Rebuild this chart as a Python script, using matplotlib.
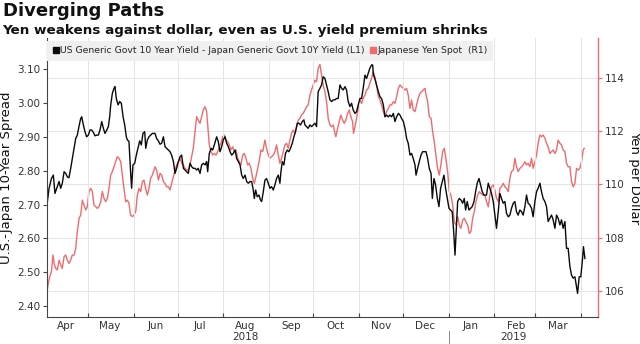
import matplotlib
matplotlib.use("Agg")
import matplotlib.pyplot as plt
import matplotlib.dates as mdates
import matplotlib.transforms as mtransforms
from matplotlib.lines import Line2D
import pandas as pd

# ---------------- data ----------------
base_date = "2018-04-01"

spread_day = [1.9, 3.5, 5.1, 6.4, 7.5, 9.1, 10.3, 11.4, 12.5, 13.7, 14.8, 15.9, 17.0, 18.2, 19.3, 20.5, 21.6,
              22.7, 23.8, 25.0, 25.7, 26.8, 27.9, 29.0, 30.2, 31.3, 32.5, 33.6, 34.7, 35.9, 37.0, 38.1, 39.3,
              40.4, 41.5, 42.7, 43.8, 44.7, 45.4, 46.5, 47.6, 48.3, 49.2, 50.4, 51.5, 52.6, 53.8, 54.9, 56.0,
              56.7, 57.8, 58.9, 59.6, 60.5, 61.7, 62.8, 63.9, 65.1, 66.2, 67.3, 68.5, 69.2, 70.3, 71.4, 72.5,
              73.7, 74.8, 75.5, 76.6, 77.8, 78.9, 80.0, 81.2, 82.3, 83.4, 84.6, 85.7, 86.8, 88.0, 89.1, 90.2,
              91.4, 92.5, 93.6, 94.8, 95.9, 97.0, 98.1, 99.3, 100.4, 101.5, 102.7, 103.8, 104.9, 106.1, 107.2,
              108.3, 109.5, 110.6, 111.3, 112.4, 113.6, 114.7, 115.8, 117.4, 118.5, 119.7, 120.8, 121.9, 123.1,
              124.2, 125.3, 126.5, 127.6, 128.7, 129.9, 131.0, 132.1, 133.3, 134.4, 135.5, 136.7, 137.8, 138.9,
              140.1, 141.2, 142.3, 143.0, 143.9, 145.0, 146.2, 147.1, 148.0, 149.1, 150.2, 151.3, 152.5, 153.6,
              154.7, 155.9, 157.0, 158.1, 159.3, 160.4, 161.1, 162.0, 163.1, 164.2, 165.4, 166.5, 167.6, 168.8,
              169.9, 171.0, 172.2, 173.3, 174.4, 175.6, 176.7, 177.4, 178.5, 179.6, 180.8, 181.9, 183.0, 184.2,
              185.3, 186.4, 187.6, 188.7, 189.8, 191.0, 192.1, 193.2, 194.4, 195.5, 196.6, 197.8, 198.9, 200.0,
              201.2, 202.3, 203.4, 204.6, 205.7, 206.8, 208.0, 209.1, 210.2, 211.4, 212.5, 213.6, 214.8, 215.9,
              217.0, 218.2, 219.3, 220.4, 221.5, 222.7, 223.4, 224.0, 224.9, 226.1, 227.3, 228.4, 229.5, 230.7,
              231.8, 232.9, 234.1, 235.2, 236.3, 237.5, 238.6, 239.7, 240.9, 242.0, 243.1, 244.3, 245.4, 246.5,
              247.6, 248.8, 249.9, 251.0, 252.2, 252.9, 254.0, 255.1, 256.3, 257.4, 258.5, 259.7, 260.8, 261.9,
              263.1, 264.0, 265.1, 266.2, 267.4, 268.5, 269.6, 270.8, 271.9, 273.0, 274.2, 275.3, 276.4, 277.5,
              278.5, 279.4, 280.3, 281.2, 282.3, 283.4, 284.6, 285.7, 286.6, 287.7, 288.9, 290.0, 291.1, 292.3,
              293.4, 294.5, 295.7, 296.8, 297.9, 299.1, 300.8, 302.0, 303.1, 304.2, 305.4, 306.5, 307.6, 308.8,
              309.9, 311.0, 312.2, 313.3, 314.4, 315.6, 316.7, 317.8, 319.0, 320.1, 321.2, 322.3, 323.5, 324.6,
              325.7, 326.9, 328.0, 329.1, 330.3, 331.4, 332.5, 333.7, 334.8, 335.9, 337.1, 338.2, 339.3, 340.5,
              341.6, 342.7, 343.9, 345.0, 346.1, 347.3, 348.4, 349.5, 350.7, 351.8, 352.9, 354.1, 355.2, 356.3,
              357.5, 358.6, 359.7, 360.9, 362.0, 362.7, 363.8, 364.9, 366.1, 366.7, 367.7]
spread_val = [2.694, 2.748, 2.777, 2.787, 2.733, 2.753, 2.768, 2.748, 2.763, 2.797, 2.792, 2.782, 2.779, 2.807,
              2.836, 2.866, 2.895, 2.905, 2.930, 2.954, 2.959, 2.935, 2.915, 2.900, 2.905, 2.920, 2.920, 2.913,
              2.903, 2.905, 2.905, 2.920, 2.945, 2.925, 2.910, 2.920, 2.930, 2.959, 2.994, 3.028, 3.043, 3.048,
              3.013, 2.994, 3.004, 2.999, 2.959, 2.935, 2.900, 2.891, 2.886, 2.797, 2.748, 2.817, 2.822, 2.846,
              2.866, 2.888, 2.876, 2.910, 2.915, 2.866, 2.891, 2.900, 2.905, 2.910, 2.910, 2.910, 2.895, 2.888,
              2.878, 2.881, 2.900, 2.871, 2.866, 2.861, 2.856, 2.846, 2.827, 2.792, 2.807, 2.827, 2.841, 2.846,
              2.807, 2.802, 2.797, 2.792, 2.822, 2.812, 2.807, 2.807, 2.802, 2.807, 2.792, 2.817, 2.822, 2.817,
              2.827, 2.797, 2.851, 2.866, 2.861, 2.876, 2.900, 2.886, 2.856, 2.871, 2.891, 2.900, 2.881, 2.871,
              2.856, 2.846, 2.851, 2.861, 2.836, 2.827, 2.817, 2.787, 2.777, 2.787, 2.768, 2.763, 2.768, 2.768,
              2.743, 2.718, 2.743, 2.723, 2.728, 2.714, 2.709, 2.738, 2.772, 2.777, 2.763, 2.748, 2.753, 2.743,
              2.758, 2.777, 2.787, 2.763, 2.797, 2.827, 2.817, 2.851, 2.861, 2.856, 2.866, 2.881, 2.900, 2.915,
              2.940, 2.940, 2.935, 2.945, 2.950, 2.935, 2.930, 2.925, 2.935, 2.930, 2.935, 2.940, 2.930, 3.033,
              3.043, 3.053, 3.077, 3.072, 3.053, 3.033, 3.009, 3.004, 3.009, 3.009, 3.013, 3.013, 3.053, 3.043,
              3.038, 3.048, 3.038, 3.004, 2.989, 2.999, 2.979, 2.969, 2.974, 2.994, 3.013, 3.013, 3.043, 3.082,
              3.072, 3.087, 3.102, 3.112, 3.112, 3.082, 3.072, 3.053, 3.033, 3.018, 3.013, 2.994, 2.959, 2.964,
              2.959, 2.964, 2.959, 2.969, 2.945, 2.959, 2.969, 2.964, 2.954, 2.945, 2.925, 2.895, 2.881, 2.846,
              2.851, 2.836, 2.817, 2.787, 2.807, 2.827, 2.846, 2.856, 2.856, 2.856, 2.836, 2.807, 2.792, 2.718,
              2.777, 2.758, 2.718, 2.694, 2.748, 2.768, 2.787, 2.748, 2.718, 2.689, 2.684, 2.679, 2.620, 2.551,
              2.630, 2.709, 2.718, 2.714, 2.704, 2.718, 2.684, 2.709, 2.684, 2.689, 2.694, 2.709, 2.738, 2.763,
              2.777, 2.758, 2.738, 2.728, 2.728, 2.763, 2.748, 2.733, 2.709, 2.669, 2.630, 2.679, 2.733, 2.718,
              2.704, 2.709, 2.674, 2.664, 2.669, 2.689, 2.704, 2.709, 2.679, 2.669, 2.684, 2.679, 2.669, 2.694,
              2.728, 2.704, 2.699, 2.689, 2.664, 2.709, 2.738, 2.748, 2.763, 2.738, 2.718, 2.709, 2.694, 2.650,
              2.660, 2.669, 2.655, 2.630, 2.669, 2.660, 2.640, 2.655, 2.630, 2.650, 2.571, 2.571, 2.517, 2.492,
              2.483, 2.487, 2.458, 2.438, 2.487, 2.487, 2.541, 2.576, 2.541]

yen_day = [1.9, 2.8, 3.9, 5.1, 6.2, 6.9, 8.0, 9.1, 10.3, 11.4, 12.5, 13.7, 14.8, 15.9, 17.0, 18.2, 19.3, 20.5,
           21.6, 22.7, 23.9, 25.0, 26.1, 27.2, 28.4, 29.5, 30.6, 31.8, 32.9, 34.0, 35.2, 36.3, 37.4, 38.6, 39.7,
           40.8, 42.0, 43.1, 44.2, 45.4, 46.5, 47.6, 48.8, 49.9, 51.0, 52.2, 53.3, 54.4, 55.6, 56.7, 57.8, 58.9,
           60.1, 61.2, 62.4, 63.5, 64.6, 65.8, 66.9, 68.0, 69.1, 70.3, 71.4, 72.5, 73.7, 74.8, 75.5, 76.6, 77.8,
           78.9, 80.0, 81.2, 82.3, 83.4, 84.6, 85.7, 86.8, 88.0, 89.1, 90.2, 91.4, 92.5, 93.6, 94.8, 95.9, 97.0,
           98.1, 99.3, 100.4, 101.5, 102.7, 103.8, 104.9, 106.1, 107.2, 108.3, 109.5, 110.6, 111.3, 112.4, 113.6,
           114.7, 115.8, 117.0, 118.1, 119.2, 120.3, 121.5, 122.6, 123.7, 124.9, 126.0, 127.1, 128.3, 129.4,
           130.5, 131.7, 132.8, 133.9, 135.1, 136.2, 137.3, 138.5, 139.6, 140.7, 141.9, 143.0, 144.1, 145.3,
           146.4, 147.5, 148.7, 150.2, 151.3, 152.5, 153.6, 154.7, 155.9, 157.0, 158.1, 159.3, 160.4, 161.5,
           162.7, 163.8, 164.9, 166.1, 167.2, 168.3, 169.5, 170.6, 171.7, 172.9, 174.0, 175.1, 176.2, 177.4,
           178.5, 179.6, 180.8, 181.9, 183.0, 184.2, 185.3, 186.4, 187.6, 188.7, 189.8, 191.0, 192.1, 193.2,
           194.4, 195.5, 196.6, 197.8, 198.4, 199.6, 200.7, 201.8, 203.0, 204.1, 205.2, 206.4, 207.5, 208.6,
           209.8, 210.4, 211.4, 212.5, 213.6, 214.8, 215.9, 217.0, 218.2, 219.3, 220.4, 221.5, 222.7, 223.8,
           224.9, 226.1, 227.3, 228.4, 229.5, 230.7, 231.8, 232.9, 234.1, 235.2, 236.3, 237.5, 238.6, 239.7,
           240.9, 242.0, 243.1, 244.3, 245.4, 246.5, 247.6, 248.8, 249.9, 251.0, 252.2, 253.3, 254.4, 255.6,
           256.7, 257.8, 259.0, 259.7, 260.8, 261.9, 263.1, 264.2, 265.3, 266.4, 267.6, 268.7, 269.8, 271.0,
           272.1, 273.2, 274.4, 275.5, 276.6, 277.8, 278.9, 280.0, 281.2, 282.3, 283.4, 284.6, 285.7, 286.8,
           288.0, 289.1, 290.2, 291.4, 292.5, 293.6, 294.8, 295.9, 297.0, 298.2, 299.7, 300.8, 302.0, 303.1,
           304.2, 305.4, 306.5, 307.6, 308.8, 309.9, 311.0, 312.2, 313.3, 314.4, 315.6, 316.7, 317.8, 319.0,
           320.1, 321.2, 322.3, 323.5, 324.6, 325.7, 326.9, 328.0, 329.1, 330.3, 331.4, 332.5, 333.7, 334.8,
           335.9, 337.1, 338.2, 339.3, 340.5, 341.6, 342.7, 343.9, 345.0, 346.1, 347.3, 348.4, 349.5, 350.7,
           351.8, 352.9, 354.1, 355.2, 356.3, 357.5, 358.6, 359.7, 360.9, 362.0, 363.1, 364.2, 365.4, 366.5,
           367.2]
yen_val = [105.91, 106.23, 106.54, 106.73, 107.35, 107.04, 106.85, 106.79, 107.16, 106.98, 106.85, 107.29,
           107.35, 107.16, 107.04, 107.16, 107.35, 107.35, 107.60, 108.23, 108.73, 108.85, 109.41, 109.23,
           109.04, 109.16, 109.73, 109.85, 109.73, 109.23, 109.16, 109.10, 109.16, 109.35, 109.73, 109.48,
           109.35, 109.48, 109.85, 110.35, 110.48, 110.66, 110.85, 111.04, 110.98, 110.85, 110.35, 109.85,
           109.35, 109.41, 109.29, 108.85, 108.79, 108.85, 108.98, 109.60, 109.85, 109.73, 110.10, 110.16,
           109.85, 109.60, 109.85, 110.23, 110.35, 110.54, 110.66, 110.54, 110.16, 110.41, 110.35, 110.10,
           110.04, 109.91, 109.91, 109.79, 110.04, 110.29, 110.54, 110.73, 110.85, 110.98, 110.79, 110.73,
           110.60, 110.54, 110.54, 110.73, 111.04, 111.35, 111.98, 112.54, 112.41, 112.29, 112.54, 112.79,
           112.91, 112.73, 112.23, 111.48, 111.23, 111.10, 111.16, 111.10, 111.23, 111.41, 111.54, 111.79,
           111.85, 111.66, 111.60, 111.48, 111.29, 111.41, 111.23, 111.29, 110.98, 110.85, 110.73, 111.10,
           111.16, 110.98, 110.73, 110.79, 110.60, 110.23, 110.04, 110.29, 110.60, 110.91, 111.29, 111.23,
           111.66, 111.35, 111.10, 110.98, 111.04, 111.10, 111.23, 111.48, 111.10, 110.79, 110.98, 111.23,
           111.48, 111.54, 111.35, 111.66, 111.91, 112.04, 111.91, 112.16, 112.41, 112.48, 112.60, 112.66,
           112.79, 112.91, 112.98, 113.35, 113.54, 113.73, 113.91, 113.85, 114.35, 114.50, 114.10, 113.73,
           113.48, 113.10, 112.48, 112.23, 112.16, 112.23, 111.91, 111.79, 112.10, 112.35, 112.60, 112.41,
           112.29, 112.41, 112.66, 112.79, 112.54, 112.35, 111.91, 112.16, 112.48, 112.85, 113.16, 113.04,
           113.23, 113.35, 113.54, 113.60, 113.79, 113.98, 114.23, 114.04, 113.70, 113.30, 113.16, 112.98,
           112.73, 112.54, 112.73, 112.85, 112.98, 112.98, 113.10, 113.04, 113.29, 113.60, 113.73, 113.66,
           113.60, 113.54, 113.60, 113.35, 112.85, 113.16, 112.79, 112.73, 112.98, 113.23, 113.41, 113.48,
           113.54, 113.60, 113.35, 113.10, 112.54, 112.48, 111.98, 111.60, 111.10, 110.60, 110.35, 110.73,
           111.23, 111.35, 110.98, 110.48, 109.73, 109.60, 109.23, 108.60, 108.48, 108.79, 108.48, 108.35,
           108.66, 108.73, 108.60, 108.48, 108.16, 108.23, 108.73, 108.98, 109.35, 109.60, 109.73, 109.66,
           109.60, 109.60, 109.35, 109.16, 109.60, 109.91, 109.98, 109.79, 109.48, 109.35, 109.85, 109.91,
           110.04, 109.91, 109.85, 109.73, 110.23, 110.48, 110.54, 110.98, 110.66, 110.48, 110.60, 110.66,
           110.73, 110.85, 110.73, 110.79, 110.66, 110.98, 110.60, 110.85, 111.10, 111.54, 111.85, 111.79,
           111.85, 111.73, 111.54, 111.41, 111.16, 111.23, 111.29, 111.16, 111.29, 111.66, 111.54, 111.48,
           111.29, 111.23, 110.79, 110.66, 110.66, 110.10, 109.91, 110.04, 110.60, 110.54, 110.60, 110.85,
           111.29, 111.35]

month_labels = ["Apr", "May", "Jun", "Jul", "Aug", "Sep", "Oct", "Nov", "Dec", "Jan", "Feb", "Mar"]
year_labels = ["2018", "2019"]
year_label_dates = ["2018-08-16", "2019-02-14"]
year_break_date = "2019-01-01"
left_ticks = [2.40, 2.50, 2.60, 2.70, 2.80, 2.90, 3.00, 3.10]
right_ticks = [106, 108, 110, 112, 114]

title = "Diverging Paths"
subtitle = "Yen weakens against dollar, even as U.S. yield premium shrinks"
spread_name = "US Generic Govt 10 Year Yield - Japan Generic Govt 10Y Yield (L1)"
yen_name = "Japanese Yen Spot  (R1)"
left_label = "U.S.-Japan 10-Year Spread"
right_label = "Yen per Dollar"

# ---------------- styling ----------------
RED = "#ef6b6e"
BLACK = "#0a0a0a"
GRID = "#e4e4e4"
TXT = "#333333"

base = pd.Timestamp(base_date)
spread_dates = base + pd.to_timedelta(spread_day, unit="D")
yen_dates = base + pd.to_timedelta(yen_day, unit="D")

plt.rcParams["font.family"] = ["DejaVu Sans"]
fig = plt.figure(figsize=(6.4, 3.44), dpi=100)
ax = fig.add_axes([0.073, 0.0785, 0.8614, 0.811])
ax2 = ax.twinx()
ax.set_zorder(ax2.get_zorder() + 1)
ax.patch.set_visible(False)

ax2.plot(yen_dates, yen_val, color=RED, lw=1.0)
ax.plot(spread_dates, spread_val, color=BLACK, lw=1.0)

ax.set_xlim(base + pd.Timedelta(days=1.9), base + pd.Timedelta(days=376.6))
ax.set_ylim(2.3684, 3.1914)
ax2.set_ylim(105.027, 115.489)

ax.set_yticks(left_ticks)
ax.set_yticklabels([f"{v:.2f}" for v in left_ticks])
ax2.set_yticks(right_ticks)
ax2.set_yticklabels([str(v) for v in right_ticks])

ax.xaxis.set_major_locator(mdates.MonthLocator(bymonthday=1))
ax.xaxis.set_major_formatter(plt.NullFormatter())
ax.xaxis.set_minor_locator(mdates.MonthLocator(bymonthday=16))
ax.xaxis.set_minor_formatter(mdates.DateFormatter("%b"))
ax.tick_params(axis="x", which="major", direction="in", length=3, color="#444444", width=0.8)
ax.tick_params(axis="x", which="minor", length=0, labelsize=7.5, labelcolor=TXT, pad=3)

ax.tick_params(axis="y", length=3, width=0.8, color="#444444", labelsize=7.5, labelcolor=TXT, pad=1.5)
ax2.tick_params(axis="y", length=3, width=0.8, color=RED, labelsize=7.5, labelcolor=TXT, pad=2)

ax.grid(True, axis="x", which="major", color=GRID, lw=0.7)
ax2.grid(True, axis="y", color=GRID, lw=0.7)
ax2.set_axisbelow(True)

for s in ["top"]:
    ax.spines[s].set_visible(False)
    ax2.spines[s].set_visible(False)
ax.spines["right"].set_visible(False)
ax2.spines["left"].set_visible(False)
ax2.spines["bottom"].set_visible(False)
ax.spines["left"].set_color("#444444")
ax.spines["bottom"].set_color("#444444")
ax.spines["left"].set_linewidth(0.8)
ax.spines["bottom"].set_linewidth(0.8)
ax2.spines["right"].set_color(RED)
ax2.spines["right"].set_linewidth(1.0)

ax.set_ylabel(left_label, fontsize=9.5, color="#111111", labelpad=3)
ax2.set_ylabel(right_label, fontsize=9.5, color="#111111", rotation=270, labelpad=12)

trans = mtransforms.blended_transform_factory(ax.transData, ax.transAxes)
for lab, d in zip(year_labels, year_label_dates):
    ax.text(pd.Timestamp(d), -0.073, lab, transform=trans, ha="center", va="center",
            fontsize=7.5, color=TXT)
ax.plot([pd.Timestamp(year_break_date)] * 2, [-0.05, -0.1], transform=trans, color="#888888",
        lw=0.7, clip_on=False)

handles = [Line2D([], [], marker="s", color="none", markerfacecolor=BLACK, markeredgecolor=BLACK, markersize=4.5),
           Line2D([], [], marker="s", color="none", markerfacecolor=RED, markeredgecolor=RED, markersize=4.5)]
leg = ax.legend(handles, [spread_name, yen_name], loc="upper left", bbox_to_anchor=(0.0, 0.99),
                ncol=2, fontsize=6.7, frameon=True, facecolor="#f0f0f0", edgecolor="none", framealpha=1,
                handlelength=0.7, handletextpad=0.1, columnspacing=0.6, borderpad=0.6,
                borderaxespad=0, fancybox=False)
for t in leg.get_texts():
    t.set_color("#222222")

fig.text(0.004, 0.995, title, fontsize=13, fontweight="bold", va="top", ha="left", color="#111111")
fig.text(0.004, 0.93, subtitle, fontsize=9.7, fontweight="bold", va="top", ha="left", color="#111111")

fig.savefig("out.png", dpi=100)
